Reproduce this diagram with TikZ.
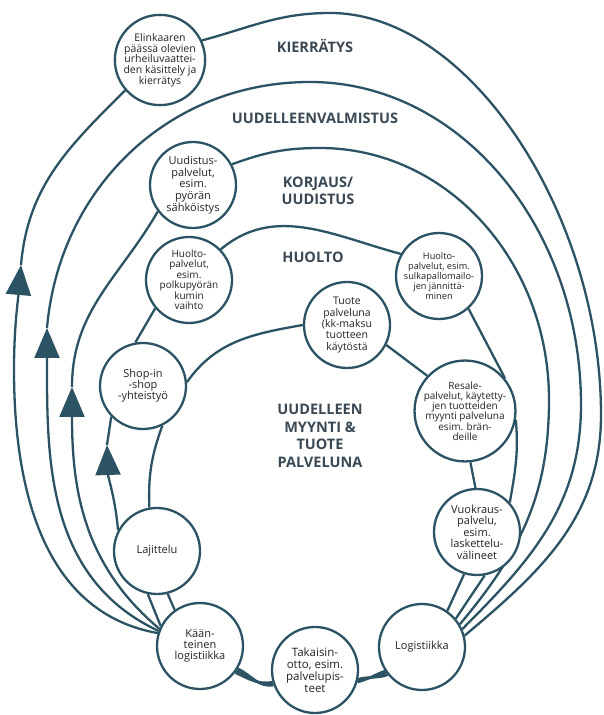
\documentclass[tikz,border=0pt]{standalone}
\usepackage{fontspec}
\setmainfont{Open Sans}
\usetikzlibrary{arrows.meta,backgrounds}

\definecolor{linecol}{RGB}{44,83,99}
\definecolor{headcol}{RGB}{58,72,84}
\definecolor{textcol}{RGB}{35,35,35}
\newcommand{\setfs}[2]{\fontsize{#1}{#2}\selectfont}

\begin{document}
\begin{tikzpicture}[
    x=1pt, y=1pt,
    station/.style={circle, draw=linecol, line width=2.3pt, fill=white, minimum size=86pt, inner sep=0pt, align=center, text=textcol, font=\setfs{11}{11}},
    heading/.style={font=\bfseries\setfs{14.5}{17.5}, text=headcol, align=center},
    loopline/.style={draw=linecol, line width=2.3pt},
    flow/.style={loopline, -{Triangle[length=30pt, width=25pt]}},
    bundle/.style={loopline, line width=2.5pt}
]
\useasboundingbox (0,0) rectangle (603,715);

% Loop headings
\node[heading] (hKierratys) at (315,669) {KIERRÄTYS};
\node[heading] (hValmistus) at (315,597) {UUDELLEENVALMISTUS};
\node[heading] (hKorjaus) at (318,524) {KORJAUS/\\UUDISTUS};
\node[heading] (hHuolto) at (313,458) {HUOLTO};
\node[heading] (hMyynti) at (320,279) {UUDELLEEN\\MYYNTI \&\\TUOTE\\PALVELUNA};

% Stations - outer loops
\node[station, font=\setfs{10.5}{10.7}] (elin) at (160,655) {Elinkaaren\\päässä olevien\\urheiluvaattei-\\den käsittely ja\\kierrätys};
\node[station, font=\setfs{11}{11.7}] (uudistus) at (193,530) {Uudistus-\\palvelut,\\esim.\\pyörän\\sähköistys};
\node[station, font=\setfs{10}{10.5}] (huolto1) at (189,435) {Huolto-\\palvelut,\\esim.\\polkupyörän\\kumin\\vaihto};
\node[station, font=\setfs{9.2}{10}] (huolto2) at (439,439) {Huolto-\\palvelut, esim.\\sulkapallomailo-\\jen jännittä-\\minen};

% Stations - inner loop
\node[station, font=\setfs{10.5}{11.3}] (tuote) at (347,390) {Tuote\\palveluna\\(kk-maksu\\tuotteen\\käytöstä};
\node[station] (shop) at (143,329) {Shop-in\\-shop\\-yhteistyö};
\node[station, minimum size=92pt, font=\setfs{10}{10.2}] (resale) at (465,304) {Resale-\\palvelut, käytetty-\\jen tuotteiden\\myynti palveluna\\esim. brän-\\deille};
\node[station, font=\setfs{11}{11.5}] (vuokraus) at (477,183) {Vuokraus-\\palvelu,\\esim.\\laskettelu-\\välineet};
\node[station] (lajittelu) at (157,164) {Lajittelu};

% Stations - bottom
\node[station] (kaant) at (200,69) {Kään-\\teinen\\logistiikka};
\node[station, font=\setfs{11.5}{12}] (takaisin) at (315,45) {Takaisin-\\otto, esim.\\palvelupis-\\teet};
\node[station] (logist) at (422,68) {Logistiikka};

\begin{scope}[on background layer]
% Kierrätys
\coordinate (kierL) at (14,345);
\coordinate (kierA) at (21,450);
\coordinate (kierTop) at (330,702);
\coordinate (kierR) at (601,300);
\draw[loopline] (kaant.163) to[out=170,in=-90] (kierL);
\draw[flow] (kierL) to[out=90,in=-95] (kierA);
\draw[loopline] (kierA) to[out=85,in=-135] (elin.221);
\draw[loopline] (elin.25) to[out=15,in=180] (kierTop)
    .. controls (470,702) and (601,500) .. (kierR)
    to[out=-90,in=40] (logist.15);

% Uudelleenvalmistus
\coordinate (valmA) at (47,387);
\coordinate (valmTop) at (310,633);
\coordinate (valmR) at (581,310);
\draw[flow] (kaant.160) to[out=155,in=-90] (valmA);
\draw[loopline] (valmA) to[out=85,in=180] (valmTop)
    .. controls (460,633) and (581,488) .. (valmR)
    to[out=-90,in=45] (logist.24);

% Korjaus / uudistus
\coordinate (korjA) at (72,328);
\coordinate (korjTop) at (320,567);
\coordinate (korjR) at (549,315);
\draw[flow] (kaant.157) to[out=140,in=-90] (korjA);
\draw[loopline] (korjA) to[out=90,in=-120] (uudistus.217);
\draw[loopline] (uudistus.28) to[out=20,in=180] (korjTop)
    .. controls (446,567) and (549,455) .. (korjR)
    to[out=-90,in=50] (logist.31);

% Huolto
\coordinate (huolA) at (107,270);
\draw[loopline] (kaant.153) -- (lajittelu.258);
\draw[flow] (lajittelu.152) to[out=95,in=-88] (huolA);
\draw[loopline] (huolA) -- (shop.224);
\draw[loopline] (shop.100) -- (huolto1.220);
\draw[loopline] (huolto1.44) to[out=40,in=165] (huolto2.150);
\draw[loopline] (huolto2.-48) -- (resale.39);
\draw[loopline] (resale.-10) to[out=-85,in=80] (vuokraus.42);
\draw[loopline] (vuokraus.-80) -- (logist.40);

% Uudelleen myynti & tuote palveluna
\draw[loopline] (kaant.125) -- (lajittelu.284);
\draw[loopline] (lajittelu.100) to[out=92,in=-110] (shop.-64);
\draw[loopline] (shop.5) to[out=55,in=190] (tuote.180);
\draw[loopline] (tuote.-27) -- (resale.137);
\draw[loopline] (resale.-84) -- (vuokraus.92);
\draw[loopline] (vuokraus.-107) -- (logist.55);

% Bottom bundles
\foreach \a/\b in {-37/196,-34/198,-31/200}
  \draw[bundle] (kaant.\a) to[out=-25,in=190] (takaisin.\b);
\foreach \a/\b in {-16/213,-14/216,-12/219}
  \draw[bundle] (takaisin.\a) to[out=15,in=200] (logist.\b);
\end{scope}

\end{tikzpicture}
\end{document}
